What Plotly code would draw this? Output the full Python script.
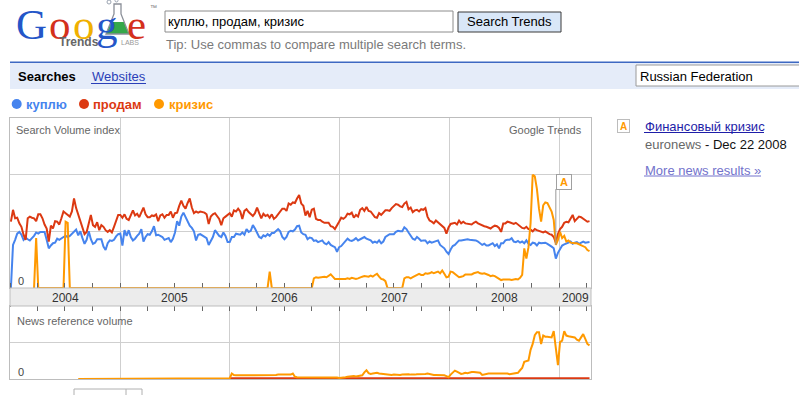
import numpy as np
import pandas as pd
import plotly.graph_objects as go

W, H = 799, 395
FONT = "Arial, 'Liberation Sans', sans-serif"


def px(x):
    return x / W


def py(y):
    return 1 - y / H


# ---------------- data ----------------
START_DATE = "2004-01-04"          # first weekly point
terms = ["куплю", "продам", "кризис"]
colors = ["#4684ee", "#dc3912", "#ff9900"]

kuplyu = [
    0.00, 0.76, 0.85, 0.96, 0.99, 0.94, 0.85, 0.89, 0.86, 0.84,
    0.88, 0.92, 0.98, 0.96, 0.99, 0.99, 0.99, 0.85, 0.70, 0.75,
    0.79, 0.80, 0.87, 0.85, 0.88, 0.90, 0.92, 0.90, 0.92, 0.96,
    0.99, 1.03, 0.93, 1.00, 0.88, 0.78, 0.85, 1.00, 0.86, 0.78,
    0.80, 0.86, 0.86, 0.86, 0.73, 0.67, 0.79, 0.84, 0.83, 0.85,
    0.91, 0.95, 0.96, 0.75, 1.02, 0.92, 1.02, 0.90, 0.84, 0.87,
    0.92, 0.96, 1.04, 0.82, 0.90, 0.95, 0.94, 1.00, 1.09, 0.93,
    0.94, 0.92, 0.90, 0.85, 0.86, 0.88, 0.81, 0.87, 0.98, 1.18,
    1.10, 1.26, 1.33, 1.25, 1.16, 1.10, 1.06, 1.00, 0.84, 0.94,
    0.95, 0.93, 0.91, 0.88, 0.76, 0.84, 0.90, 1.02, 0.97, 0.92,
    0.90, 0.98, 0.92, 0.81, 0.81, 0.90, 0.90, 0.96, 0.95, 0.94,
    0.98, 0.94, 1.04, 0.99, 1.01, 1.11, 1.05, 0.96, 0.90, 0.88,
    0.93, 0.91, 0.95, 0.92, 0.97, 0.97, 1.00, 1.04, 1.00, 0.90,
    0.86, 0.90, 0.99, 1.01, 1.00, 1.03, 1.09, 1.10, 0.98, 0.95,
    0.94, 0.86, 0.89, 0.88, 0.83, 0.84, 0.81, 0.82, 0.84, 0.79,
    0.77, 0.81, 0.76, 0.74, 0.72, 0.64, 0.72, 0.74, 0.78, 0.83,
    0.87, 0.84, 0.83, 0.85, 0.88, 0.84, 0.86, 0.89, 0.90, 0.87,
    0.85, 0.84, 0.80, 0.82, 0.80, 0.84, 0.79, 0.82, 0.90, 0.93,
    0.95, 0.95, 0.95, 0.99, 1.01, 1.00, 1.00, 1.07, 1.04, 0.98,
    0.92, 0.87, 0.85, 0.90, 0.87, 0.83, 0.84, 0.84, 0.79, 0.82,
    0.80, 0.81, 0.83, 0.84, 0.76, 0.73, 0.70, 0.64, 0.60, 0.68,
    0.74, 0.76, 0.80, 0.84, 0.84, 0.85, 0.85, 0.86, 0.85, 0.85,
    0.84, 0.84, 0.82, 0.79, 0.76, 0.78, 0.75, 0.75, 0.77, 0.79,
    0.74, 0.77, 0.70, 0.79, 0.79, 0.84, 0.85, 0.85, 0.88, 0.82,
    0.81, 0.83, 0.80, 0.82, 0.79, 0.84, 0.78, 0.76, 0.80, 0.79,
    0.75, 0.80, 0.79, 0.79, 0.80, 0.78, 0.76, 0.73, 0.70, 0.52,
    0.62, 0.70, 0.75, 0.77, 0.78, 0.80, 0.82, 0.78, 0.80, 0.81,
    0.78, 0.80, 0.82, 0.80, 0.81, 0.81,
]

prodam = [
    1.17, 1.38, 1.23, 1.24, 1.14, 1.08, 0.94, 0.85, 1.23, 1.26,
    1.24, 1.23, 1.18, 1.30, 1.30, 1.23, 1.12, 1.05, 0.82, 1.10,
    1.05, 1.18, 1.17, 1.12, 1.23, 1.35, 1.32, 1.29, 1.26, 1.35,
    1.58, 1.41, 1.29, 1.18, 1.08, 0.95, 0.99, 1.17, 1.29, 1.11,
    1.08, 1.16, 1.02, 1.11, 1.08, 1.02, 0.99, 1.02, 0.98, 1.08,
    1.17, 1.29, 1.29, 1.24, 1.30, 1.22, 1.20, 1.30, 1.37, 1.28,
    1.31, 1.25, 1.35, 1.42, 1.30, 1.25, 1.25, 1.28, 1.27, 1.30,
    1.18, 1.28, 1.30, 1.24, 1.29, 1.29, 1.35, 1.24, 1.32, 1.33,
    1.45, 1.54, 1.45, 1.40, 1.50, 1.58, 1.42, 1.32, 1.35, 1.33,
    1.35, 1.34, 1.33, 1.30, 1.13, 1.26, 1.30, 1.32, 1.27, 1.22,
    1.11, 1.23, 1.26, 1.29, 1.32, 1.26, 1.37, 1.35, 1.40, 1.35,
    1.22, 1.36, 1.39, 1.34, 1.30, 1.27, 1.32, 1.42, 1.32, 1.23,
    1.31, 1.27, 1.29, 1.24, 1.30, 1.22, 1.25, 1.30, 1.33, 1.40,
    1.40, 1.36, 1.49, 1.47, 1.51, 1.50, 1.58, 1.64, 1.49, 1.45,
    1.28, 1.36, 1.25, 1.38, 1.40, 1.22, 1.20, 1.20, 1.17, 1.15,
    1.15, 1.15, 1.09, 1.08, 1.04, 1.12, 1.17, 1.24, 1.22, 1.25,
    1.31, 1.30, 1.33, 1.24, 1.29, 1.26, 1.38, 1.41, 1.36, 1.43,
    1.36, 1.35, 1.30, 1.25, 1.24, 1.32, 1.29, 1.33, 1.37, 1.37,
    1.36, 1.41, 1.44, 1.48, 1.47, 1.44, 1.43, 1.49, 1.52, 1.39,
    1.42, 1.34, 1.37, 1.38, 1.35, 1.39, 1.38, 1.41, 1.26, 1.19,
    1.17, 1.14, 1.19, 1.16, 1.12, 1.10, 1.06, 0.96, 1.07, 1.13,
    1.14, 1.15, 1.12, 1.19, 1.14, 1.17, 1.14, 1.13, 1.12, 1.12,
    1.15, 1.17, 1.14, 1.12, 1.11, 1.09, 1.08, 1.07, 1.05, 1.08,
    1.10, 1.09, 1.06, 0.99, 1.14, 1.14, 1.17, 1.16, 1.15, 1.13,
    1.15, 1.12, 1.10, 1.06, 1.05, 1.08, 1.04, 1.03, 1.00, 1.04,
    1.02, 1.01, 0.99, 0.98, 1.00, 0.97, 0.95, 0.94, 0.90, 0.80,
    0.95, 1.04, 1.08, 1.15, 1.17, 1.16, 1.22, 1.29, 1.18, 1.23,
    1.26, 1.25, 1.22, 1.20, 1.17, 1.18,
]

krizis = [
    None, None, None, None, None, None, None, None, None, None,
    None, 0.00, 0.88, 0.00, 0.00, 0.00, 0.00, 0.00, 0.00, 0.00,
    0.00, 0.00, 0.00, 0.00, 0.00, 0.00, 1.17, 1.15, 0.00, 0.00,
    0.00, 0.00, 0.00, 0.00, 0.00, 0.00, 0.00, 0.00, 0.00, 0.00,
    0.00, 0.00, 0.00, 0.00, 0.00, 0.00, 0.00, 0.00, 0.00, 0.00,
    0.00, 0.00, 0.00, 0.00, 0.00, 0.00, 0.00, 0.00, 0.00, 0.00,
    0.00, 0.00, 0.00, 0.00, 0.00, 0.00, 0.00, 0.00, 0.00, 0.00,
    0.00, 0.00, 0.00, 0.00, 0.00, 0.00, 0.00, 0.00, 0.00, 0.00,
    0.00, 0.00, 0.00, 0.00, 0.00, 0.00, 0.00, 0.00, 0.00, 0.00,
    0.00, 0.00, 0.00, 0.00, 0.00, 0.00, 0.00, 0.00, 0.00, 0.00,
    0.00, 0.00, 0.00, 0.00, 0.00, 0.00, 0.00, 0.00, 0.00, 0.00,
    0.00, 0.00, 0.00, 0.00, 0.00, 0.00, 0.00, 0.00, 0.00, 0.00,
    0.00, 0.00, 0.00, 0.29, 0.00, 0.00, 0.00, 0.00, 0.00, 0.00,
    0.00, 0.00, 0.00, 0.00, 0.00, 0.00, 0.00, 0.00, 0.00, 0.00,
    0.00, 0.00, 0.00, 0.00, 0.17, 0.19, 0.18, 0.19, 0.19, 0.20,
    0.19, 0.22, 0.24, 0.20, 0.16, 0.16, 0.16, 0.15, 0.16, 0.16,
    0.17, 0.16, 0.18, 0.17, 0.16, 0.17, 0.19, 0.20, 0.21, 0.20,
    0.20, 0.22, 0.20, 0.23, 0.25, 0.20, 0.16, 0.15, 0.12, 0.00,
    0.00, 0.00, 0.00, 0.00, 0.00, 0.00, 0.00, 0.17, 0.19, 0.19,
    0.17, 0.19, 0.21, 0.23, 0.25, 0.23, 0.23, 0.26, 0.25, 0.26,
    0.28, 0.26, 0.27, 0.29, 0.26, 0.31, 0.25, 0.19, 0.20, 0.29,
    0.28, 0.25, 0.21, 0.19, 0.20, 0.21, 0.24, 0.24, 0.23, 0.24,
    0.26, 0.27, 0.28, 0.26, 0.25, 0.26, 0.25, 0.23, 0.21, 0.22,
    0.21, 0.19, 0.17, 0.14, 0.15, 0.15, 0.16, 0.15, 0.14, 0.15,
    0.16, 0.15, 0.18, 0.23, 0.70, 0.52, 0.72, 1.15, 2.00, 1.97,
    1.75, 1.40, 1.17, 1.46, 1.51, 1.50, 1.42, 1.35, 1.20, 0.76,
    0.85, 0.99, 0.88, 0.92, 0.82, 0.84, 0.80, 0.79, 0.79, 0.79,
    0.77, 0.76, 0.74, 0.72, 0.67, 0.65,
]

news_krizis = [
    None, None, None, None, None, None, None, None, None, None,
    None, None, None, None, None, None, None, None, None, None,
    None, None, None, None, None, None, None, None, None, None,
    None, None, 0.00, 0.00, 0.00, 0.00, 0.00, 0.00, 0.00, 0.00,
    0.00, 0.00, 0.00, 0.00, 0.00, 0.00, 0.00, 0.00, 0.00, 0.00,
    0.00, 0.00, 0.00, 0.00, 0.00, 0.00, 0.00, 0.00, 0.00, 0.00,
    0.00, 0.00, 0.00, 0.00, 0.00, 0.00, 0.00, 0.00, 0.00, 0.00,
    0.00, 0.00, 0.00, 0.00, 0.00, 0.00, 0.00, 0.00, 0.00, 0.00,
    0.00, 0.00, 0.00, 0.00, 0.00, 0.00, 0.00, 0.00, 0.00, 0.00,
    0.00, 0.00, 0.00, 0.00, 0.00, 0.00, 0.00, 0.00, 0.00, 0.00,
    0.00, 0.00, 0.00, 0.00, 0.02, 0.15, 0.11, 0.10, 0.10, 0.09,
    0.10, 0.10, 0.09, 0.09, 0.10, 0.10, 0.09, 0.09, 0.10, 0.09,
    0.09, 0.10, 0.10, 0.09, 0.10, 0.11, 0.11, 0.12, 0.12, 0.11,
    0.12, 0.12, 0.13, 0.12, 0.15, 0.06, 0.05, 0.05, 0.06, 0.05,
    0.04, 0.05, 0.05, 0.06, 0.05, 0.05, 0.04, 0.05, 0.05, 0.04,
    0.05, 0.05, 0.04, 0.05, 0.04, 0.04, 0.03, 0.03, 0.04, 0.05,
    0.06, 0.07, 0.07, 0.08, 0.07, 0.08, 0.09, 0.10, 0.18, 0.24,
    0.16, 0.14, 0.15, 0.17, 0.17, 0.15, 0.14, 0.14, 0.13, 0.12,
    0.12, 0.11, 0.12, 0.11, 0.11, 0.11, 0.12, 0.13, 0.14, 0.13,
    0.12, 0.11, 0.12, 0.13, 0.13, 0.12, 0.13, 0.14, 0.15, 0.13,
    0.12, 0.11, 0.11, 0.11, 0.11, 0.11, 0.10, 0.08, 0.05, 0.12,
    0.18, 0.23, 0.20, 0.16, 0.14, 0.15, 0.17, 0.16, 0.18, 0.19,
    0.19, 0.18, 0.19, 0.17, 0.11, 0.13, 0.15, 0.15, 0.15, 0.15,
    0.16, 0.15, 0.15, 0.15, 0.14, 0.15, 0.15, 0.13, 0.14, 0.15,
    0.15, 0.17, 0.24, 0.30, 0.47, 0.49, 0.51, 0.80, 0.96, 1.20,
    1.28, 1.28, 0.96, 1.19, 1.16, 1.16, 1.14, 1.14, 1.31, 0.78,
    0.38, 1.01, 1.05, 1.31, 1.19, 1.17, 1.16, 1.15, 1.14, 1.08,
    1.05, 1.14, 1.23, 1.10, 0.96, 0.92,
]

news_prodam = [
    None, None, None, None, None, None, None, None, None, None,
    None, None, None, None, None, None, None, None, None, None,
    None, None, None, None, None, None, None, None, None, None,
    None, None, None, None, None, None, None, None, None, None,
    None, None, None, None, None, None, None, None, None, None,
    None, None, None, None, None, None, None, None, None, None,
    None, None, None, None, None, None, None, None, None, None,
    None, None, None, None, None, None, None, None, None, None,
    None, None, None, None, None, None, None, None, None, None,
    None, None, None, None, None, None, None, None, None, None,
    None, None, None, None, 0.02, 0.03, 0.02, 0.02, 0.03, 0.02,
    0.02, 0.03, 0.02, 0.02, 0.02, 0.03, 0.02, 0.02, 0.03, 0.02,
    0.02, 0.02, 0.03, 0.02, 0.02, 0.03, 0.02, 0.02, 0.02, 0.03,
    0.02, 0.02, 0.03, 0.02, 0.04, 0.03, 0.02, 0.02, 0.03, 0.02,
    0.02, 0.03, 0.02, 0.02, 0.02, 0.03, 0.02, 0.02, 0.02, 0.02,
    0.03, 0.02, 0.02, 0.02, 0.03, 0.02, 0.02, 0.02, 0.02, 0.03,
    0.02, 0.02, 0.03, 0.02, 0.02, 0.02, 0.03, 0.02, 0.03, 0.03,
    0.02, 0.02, 0.03, 0.02, 0.02, 0.03, 0.02, 0.02, 0.02, 0.03,
    0.02, 0.02, 0.02, 0.03, 0.02, 0.02, 0.03, 0.02, 0.02, 0.02,
    0.03, 0.02, 0.02, 0.02, 0.03, 0.02, 0.02, 0.03, 0.02, 0.02,
    0.02, 0.03, 0.02, 0.02, 0.02, 0.03, 0.02, 0.02, 0.02, 0.03,
    0.02, 0.02, 0.03, 0.02, 0.02, 0.02, 0.03, 0.02, 0.02, 0.02,
    0.03, 0.02, 0.02, 0.02, 0.03, 0.02, 0.02, 0.03, 0.02, 0.02,
    0.02, 0.03, 0.02, 0.02, 0.02, 0.03, 0.02, 0.02, 0.03, 0.02,
    0.02, 0.02, 0.03, 0.02, 0.03, 0.03, 0.02, 0.03, 0.03, 0.02,
    0.03, 0.03, 0.02, 0.03, 0.02, 0.03, 0.03, 0.02, 0.03, 0.02,
    0.03, 0.02, 0.03, 0.03, 0.02, 0.03, 0.02, 0.03, 0.02, 0.03,
    0.02, 0.03, 0.02, 0.03, 0.02, 0.02,
]

year_labels = ["2004", "2005", "2006", "2007", "2008", "2009"]
year_label_pos = ["2004-07-02", "2005-07-02", "2006-07-02",
                  "2007-07-02", "2008-07-02", "2009-02-23"]
x_range = ["2004-01-01", "2009-04-17"]
event_date = "2008-12-22"
event_letter = "A"
news_title = "Финансовый кризис"
news_source = "euronews"
news_date = "Dec 22 2008"

# ---------------- figure ----------------
dates = pd.date_range(START_DATE, periods=len(kuplyu), freq="7D")

fig = go.Figure()
for name, vals, col in zip(terms, [kuplyu, prodam, krizis], colors):
    fig.add_trace(go.Scatter(x=dates[:len(vals)], y=vals, mode="lines", name=name,
                             line=dict(color=col, width=2), xaxis="x", yaxis="y",
                             hoverinfo="skip"))
for name, vals, col in [(terms[1], news_prodam, colors[1]), (terms[2], news_krizis, colors[2])]:
    fig.add_trace(go.Scatter(x=dates[:len(vals)], y=vals, mode="lines", name=name,
                             line=dict(color=col, width=2), xaxis="x2", yaxis="y2",
                             hoverinfo="skip"))

GRID = "#cfcfcf"
BORDER = "#bdbdbd"

common_x = dict(type="date", range=x_range, domain=[px(10), px(591)],
                showgrid=True, gridcolor=GRID, gridwidth=1, dtick="M12", tick0="2004-01-01",
                showticklabels=False, showline=True, linecolor=BORDER, mirror=True,
                zeroline=False, fixedrange=True)

fig.update_layout(
    width=W, height=H, margin=dict(l=0, r=0, t=0, b=0),
    paper_bgcolor="white", plot_bgcolor="white", showlegend=False,
    hovermode=False, font=dict(family=FONT),
    xaxis=dict(**common_x, anchor="y", ticks="outside", ticklen=18, tickcolor="#8a8a8a",
               minor=dict(dtick="M3", tick0="2004-01-01", ticks="inside", ticklen=5,
                          tickcolor="#666", showgrid=False)),
    yaxis=dict(domain=[py(288), py(118)], range=[0, 3], dtick=1, showgrid=True, gridcolor=GRID,
               showticklabels=False, showline=True, linecolor=BORDER, mirror=True,
               zeroline=False, anchor="x", fixedrange=True),
    xaxis2=dict(**common_x, anchor="y2", side="top", ticks="inside", ticklen=5, tickcolor="#666",
                minor=dict(dtick="M3", tick0="2004-01-01", ticks="inside", ticklen=5,
                           tickcolor="#666", showgrid=False)),
    yaxis2=dict(domain=[py(379), py(306)], range=[0, 2], dtick=1, showgrid=True, gridcolor=GRID,
                showticklabels=False, showline=True, linecolor=BORDER, mirror=True,
                zeroline=False, anchor="x2", fixedrange=True),
)


def ppath(points):
    return "M " + " L ".join(f"{px(x):.5f},{py(y):.5f}" for x, y in points) + " Z"


def rect(x0, y0, x1, y1, fill=None, line=None, lw=1):
    return dict(type="rect", xref="paper", yref="paper", x0=px(x0), x1=px(x1), y0=py(y1), y1=py(y0),
                fillcolor=fill if fill else "rgba(0,0,0,0)",
                line=dict(color=line if line else "rgba(0,0,0,0)", width=lw if line else 0))


def hline(x0, x1, y, color, lw=1):
    return dict(type="line", xref="paper", yref="paper", x0=px(x0), x1=px(x1), y0=py(y), y1=py(y),
                line=dict(color=color, width=lw))


# event marker position from the data
ev_idx = int(np.argmin(np.abs((dates - pd.Timestamp(event_date)).days)))
ev_val = krizis[ev_idx]
BOX_Y = 1.875

shapes = [
    # gray date band between the two panels
    rect(10, 288, 591, 306, fill="#ececec", line=BORDER),
    # header: search box and button
    rect(165, 11, 453, 32, fill="white", line="#8c8c8c"),
    rect(458, 12, 561, 32, fill="#d9e7f8", line="#3a3a3a"),
    # blue bar
    rect(10, 63, 799, 89, fill="#e5ecf9"),
    hline(10, 799, 62.3, "#3d68c2", 1.6),
    rect(636, 65, 805, 86, fill="white", line="#9a9a9a"),
    # underlines of links
    hline(91, 146, 83.5, "#2a3fb8"),
    hline(644, 764, 132.5, "#1e1ea8"),
    hline(644, 761, 176, "#7272cc"),
    # event line in the chart
    dict(type="line", xref="x", yref="y", x0=dates[ev_idx], x1=dates[ev_idx],
         y0=ev_val, y1=BOX_Y - 0.13, line=dict(color="#999", width=1)),
    # partially visible select box at the bottom
    rect(74, 389, 142, 400, fill="white", line="#b0b0b0"),
    dict(type="line", xref="paper", yref="paper", x0=px(126), x1=px(126), y0=py(389), y1=py(395),
         line=dict(color="#b0b0b0", width=1)),
    # flask in the logo
    dict(type="path", xref="paper", yref="paper",
         path=ppath([(111, 22), (124, 22), (129, 34), (106, 34)]),
         fillcolor="#35a84a", line=dict(width=0)),
    dict(type="path", xref="paper", yref="paper",
         path=ppath([(114, 4), (121, 4), (121, 14), (129, 34), (106, 34), (114, 14)]),
         fillcolor="rgba(0,0,0,0)", line=dict(color="#8a8f98", width=1.3)),
    dict(type="circle", xref="paper", yref="paper", x0=px(107), x1=px(111), y0=py(4), y1=py(0),
         line=dict(color="#9aa3b0", width=1)),
    dict(type="circle", xref="paper", yref="paper", x0=px(115), x1=px(118), y0=py(2), y1=py(-1),
         line=dict(color="#9aa3b0", width=1)),
]
# legend dots
for cx, col in zip([16.7, 84, 159], colors):
    shapes.append(dict(type="circle", xref="paper", yref="paper", x0=px(cx - 5), x1=px(cx + 5),
                       y0=py(109), y1=py(99), fillcolor=col, line=dict(width=0)))
fig.update_layout(shapes=shapes)


def txt(x, y, text, size=13, color="#000", anchor="left", bold=False, family=FONT, **kw):
    if bold:
        text = f"<b>{text}</b>"
    d = dict(xref="paper", yref="paper", x=px(x), y=py(y), text=text, showarrow=False,
             xanchor=anchor, yanchor="middle", font=dict(size=size, color=color, family=family))
    d.update(kw)
    return d


SERIF = "'Liberation Serif', 'DejaVu Serif', serif"
LOGO_SIZE = 43
LOGO_Y = 24.8
logo_letters = [("G", 14, "#2456c8"), ("o", 47, "#d4301c"), ("o", 71, "#f0b000"),
                ("g", 94, "#2456c8"), ("e", 125, "#d4301c")]

ann = [txt(x, LOGO_Y, ch, size=LOGO_SIZE, color=col, family=SERIF) for ch, x, col in logo_letters]
ann += [
    txt(148, 8, "™", size=7, color="#777"),
    txt(57, 42, "Trends", size=12, color="#666", bold=True),
    txt(119, 42, "LABS", size=7, color="#999"),
    txt(166, 21.5, "куплю, продам, кризис", size=13),
    txt(509.5, 22, "Search Trends", size=13, anchor="center"),
    txt(164, 44, "Tip: Use commas to compare multiple search terms.", size=13, color="#7a7a7a"),
    txt(16, 76.5, "Searches", size=13, bold=True),
    txt(90, 76.5, "Websites", size=13, color="#2a3fb8"),
    txt(638, 76, "Russian Federation", size=13),
    txt(24, 104, terms[0], size=13, color=colors[0], bold=True),
    txt(91, 104, terms[1], size=13, color=colors[1], bold=True),
    txt(167, 104, terms[2], size=13, color=colors[2], bold=True),
    txt(14, 129.5, "Search Volume index", size=11, color="#666"),
    txt(584, 129.5, "Google Trends", size=11, color="#666", anchor="right"),
    txt(15.5, 281, "0", size=11, color="#444"),
    txt(14.5, 320.5, "News reference volume", size=11, color="#666"),
    txt(15.5, 372, "0", size=11, color="#444"),
    # right news panel
    txt(617, 126, f"<b>{event_letter}</b>", size=10, color=colors[2], bordercolor="#bcbcbc",
        borderwidth=1, borderpad=1, bgcolor="white", width=9, height=10),
    txt(643, 127, news_title, size=13, color="#1e1ea8"),
    txt(643, 145, f"<span style='color:#676767'>{news_source}</span> - {news_date}", size=13,
        color="#111"),
    txt(643, 170, "More news results »", size=13, color="#7272cc"),
]
for lab, pos in zip(year_labels, year_label_pos):
    ann.append(dict(xref="x", yref="paper", x=pos, y=py(297.5), text=lab, showarrow=False,
                    xanchor="center", yanchor="middle", font=dict(size=12, color="#333", family=FONT)))
# chart event box
ann.append(dict(xref="x", yref="y", x=dates[ev_idx], y=BOX_Y, text=f"<b>{event_letter}</b>",
                showarrow=False, xanchor="left", yanchor="middle",
                font=dict(size=11, color=colors[2], family=FONT),
                bordercolor="#a0a0a0", borderwidth=1, borderpad=1, bgcolor="white",
                width=12, height=12))
fig.update_layout(annotations=ann)

fig.write_html("out.html")
